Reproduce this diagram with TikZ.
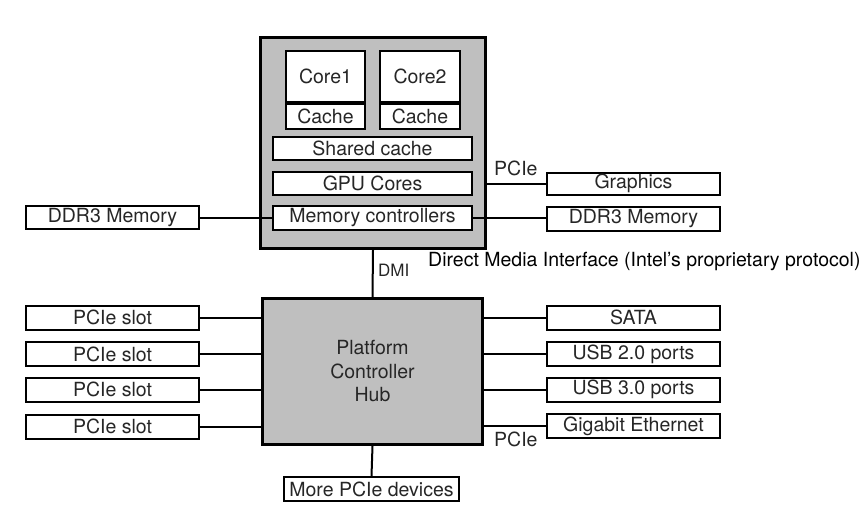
\documentclass[tikz,border=0pt]{standalone}
\usepackage{fontspec}
\setmainfont{TeX Gyre Heros}
\usetikzlibrary{shapes}
\begin{document}
\begin{tikzpicture}[x=1pt,y=-1pt]
        \tikzstyle{every node}=[font=\fontsize{19.5}{23.5}\selectfont, text=black!85]
        \tikzstyle{chip}=[draw, line width=3pt, fill=gray!50, inner sep=0pt]
        \tikzstyle{unit}=[draw, line width=2pt, fill=white, inner sep=0pt, minimum height=24pt]
        \tikzstyle{dev}=[draw, line width=2pt, fill=white, inner sep=0pt, minimum width=173pt, minimum height=24pt]
        \tikzstyle{bus}=[line width=2pt]
        \tikzstyle{lbl}=[inner sep=0pt, anchor=base west]
        \useasboundingbox (0,0) rectangle (862,519);
        \node[chip, minimum width=225pt, minimum height=211pt] (cpu) at (373,143) {};
        \node[unit, anchor=north, minimum width=79pt, minimum height=51pt] (core1) at (325.5,50) {Core1};
        \node[unit, anchor=north, minimum width=79pt, minimum height=25pt] (cache1) at (core1.south) {Cache};
        \node[unit, anchor=north, minimum width=80pt, minimum height=51pt] (core2) at (420,50) {Core2};
        \node[unit, anchor=north, minimum width=80pt, minimum height=25pt] (cache2) at (core2.south) {Cache};
        \node[unit, minimum width=199pt, minimum height=23pt] (shared) at (372.5,148.5) {Shared cache};
        \node[unit, minimum width=199pt, minimum height=23pt] (gpu) at (372.5,183.5) {GPU Cores};
        \node[unit, minimum width=199pt] (memctl) at (372.5,218) {Memory controllers};
        \node[dev, minimum height=23pt] (ddrl) at (112.5,217.5) {DDR3 Memory};
        \node[dev, minimum height=22pt] (gfx) at (633.5,183.5) {Graphics};
        \node[dev] (ddrr) at (633.5,218.5) {DDR3 Memory};
        \node[chip, minimum width=220pt, minimum height=146pt, align=center] (pch) at (372.5,371.5) {Platform\\Controller\\Hub};
        \node[dev] (slot1) at (112.5,317.5) {PCIe slot};
        \node[dev] (slot2) at (112.5,354) {PCIe slot};
        \node[dev] (slot3) at (112.5,389.5) {PCIe slot};
        \node[dev] (slot4) at (112.5,426.5) {PCIe slot};
        \node[dev] (sata) at (633.5,317.5) {SATA};
        \node[dev] (usb2) at (633.5,354) {USB 2.0 ports};
        \node[dev] (usb3) at (633.5,389.5) {USB 3.0 ports};
        \node[dev] (gbe) at (633.5,426) {Gigabit Ethernet};
        \node[dev, minimum width=175pt] (more) at (371.5,489) {More PCIe devices};
        \node[lbl] (pcieg) at (494,175) {PCIe};
        \node[lbl] (pcien) at (494,446) {PCIe};
        \node[lbl, font=\fontsize{17}{20}\selectfont] (dmi) at (378,276) {DMI};
        \node[lbl, text=black] (dminote) at (428,266) {Direct Media Interface (Intel’s proprietary protocol)};
        \draw[bus] (ddrl.east) -- (ddrl.east -| memctl.west);
        \draw[bus] (memctl.east) -- (memctl.east -| ddrr.west);
        \draw[bus] (cpu.east |- gfx.west) -- (gfx.west);
        \draw[bus] (cpu.south) -- (pch.north);
        \foreach \s in {slot1,slot2,slot3,slot4}
            \draw[bus] (\s.east) -- (\s.east -| pch.west);
        \foreach \d in {sata,usb2,usb3,gbe}
            \draw[bus] (pch.east |- \d.west) -- (\d.west);
        \draw[bus] (pch.south) -- (more.north);
\end{tikzpicture}
\end{document}
